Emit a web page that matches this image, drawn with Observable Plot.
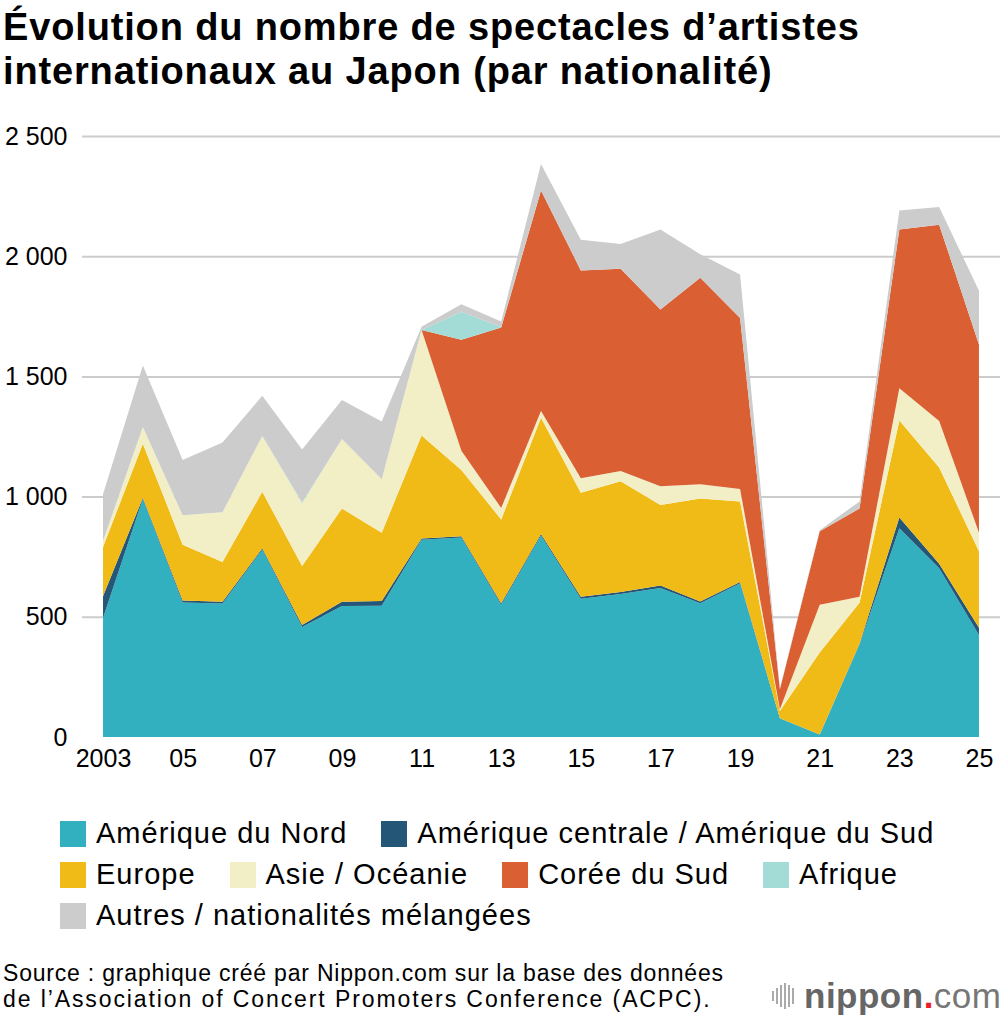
<!DOCTYPE html>
<html>
<head>
<meta charset="utf-8">
<script src="https://cdn.jsdelivr.net/npm/d3@7"></script>
<script src="https://cdn.jsdelivr.net/npm/@observablehq/plot@0.6"></script>
<style>
  html, body { margin: 0; padding: 0; background: #fff; }
  body { width: 1000px; height: 1020px; position: relative; overflow: hidden; font-family: "Liberation Sans", Arial, Helvetica, sans-serif; color: #000; }
  #title { position: absolute; left: 3px; top: 5px; font-size: 38px; font-weight: bold; line-height: 44px; letter-spacing: 0.85px; white-space: nowrap; }
  #chart { position: absolute; left: 0; top: 110px; }
  #legend { position: absolute; left: 60px; top: 813px; font-size: 29px; letter-spacing: 1px; }
  .row { height: 41px; display: flex; align-items: center; white-space: nowrap; }
  .item { display: flex; align-items: center; margin-right: 34px; }
  .sw { width: 26px; height: 26px; margin-right: 10px; flex: none; }
  #source { position: absolute; left: 3px; top: 960px; font-size: 23px; line-height: 26px; letter-spacing: 0.8px; white-space: nowrap; }
  #source .l2 { letter-spacing: 1.9px; }
  #logo { position: absolute; left: 772px; top: 976px; height: 40px; display: flex; align-items: center; }
  #logo .bars { display: flex; align-items: center; margin-right: 8px; }
  #logo .bars span { display: block; width: 2px; background: #aaa; margin-right: 2px; }
  #logo .word { font-size: 35px; color: #666; letter-spacing: 0.5px; }
  #logo .word b { font-weight: bold; color: #666; }
  #logo .word .dot { color: #e8202a; font-weight: bold; }
  #logo .word .com { font-weight: normal; color: #777; }
</style>
</head>
<body>
<div id="title">Évolution du nombre de spectacles d’artistes<br>internationaux au Japon (par nationalité)</div>
<div id="chart"></div>
<div id="legend"></div>
<div id="source">Source : graphique créé par Nippon.com sur la base des données<br><span class="l2">de l’Association of Concert Promoters Conference (ACPC).</span></div>
<div id="logo">
  <div class="bars"><span style="height:10px"></span><span style="height:16px"></span><span style="height:22px"></span><span style="height:26px"></span><span style="height:22px"></span><span style="height:16px"></span></div>
  <div class="word"><b>nippon</b><span class="dot">.</span><span class="com">com</span></div>
</div>
<script>
// ---- Data ----
const years = [2003,2004,2005,2006,2007,2008,2009,2010,2011,2012,2013,2014,2015,2016,2017,2018,2019,2020,2021,2022,2023,2024,2025];

const categories = [
  "Amérique du Nord",
  "Amérique centrale / Amérique du Sud",
  "Europe",
  "Asie / Océanie",
  "Corée du Sud",
  "Afrique",
  "Autres / nationalités mélangées"
];

const colors = ["#33b0c0", "#235677", "#f0bb17", "#f2efc6", "#da6034", "#a3dcd6", "#cccccc"];

const northAmerica   = [495, 990, 560, 555, 780, 458, 545, 546, 820, 830, 550, 838, 575, 595, 620, 556, 640, 78, 10, 385, 868, 702, 424];
const centralSouthAm = [ 90,   5,   8,   8,   5,   8,  18,  20,   6,   5,   6,   6,   8,   8,  10,   8,   5,  0,  0,   3,  45,  19,  30];
const europe         = [205, 225, 232, 165, 235, 245, 387, 284, 428, 276, 349, 484, 433, 461, 335, 428, 335, 30, 341, 170, 404, 400, 319];
const asiaOceania    = [ 25,  70, 122, 207, 232, 261, 290, 222, 439,  80,  48,  28,  60,  43,  78,  59,  52,  7, 199,  25, 134, 193,  77];
const southKorea     = [  0,   0,   0,   0,   0,   0,   0,   0,   0, 461, 750, 917, 865, 841, 735, 859, 711, 84, 306, 368, 660, 817, 783];
const africa         = [  0,   0,   0,   0,   0,   5,   0,   0,   0, 117,   3,   0,   0,   0,   0,   0,   0,  0,   0,   0,   0,   0,   0];
const others         = [195, 255, 230, 290, 167, 219, 162, 240,  14,  31,  22, 111, 127, 103, 333,  98, 181,  3,   4,  29,  79,  74, 223];

const series = [northAmerica, centralSouthAm, europe, asiaOceania, southKorea, africa, others];

const xTicks = [2003,2005,2007,2009,2011,2013,2015,2017,2019,2021,2023,2025];
const yTicks = [0,500,1000,1500,2000,2500];

// long table for the library
const table = [];
categories.forEach((cat, i) => {
  years.forEach((yr, j) => table.push({year: yr, value: series[i][j], cat}));
});

const fmtY = d => d3.format(",")(d).replace(/,/g, " ");
const fmtX = d => d === 2003 ? "2003" : String(d).slice(2);

const chart = Plot.plot({
  width: 1000,
  height: 667,
  marginTop: 26,
  marginBottom: 40,
  marginLeft: 82,
  marginRight: 0,
  style: {fontFamily: '"Liberation Sans", Arial, Helvetica, sans-serif', fontSize: "25px", color: "#000", background: "#fff"},
  x: {domain: [2002.472, 2025.528], label: null},
  y: {domain: [0, 2500], label: null},
  color: {domain: categories, range: colors},
  marks: [
    Plot.ruleY(yTicks.filter(d => d > 0), {stroke: "#cccccc", strokeWidth: 2}),
    Plot.areaY(table, {x: "year", y: "value", fill: "cat", order: categories}),
    Plot.ruleY([0], {stroke: "#000", strokeWidth: 3, x2: 995}),
    Plot.axisX({ticks: xTicks, tickSize: 0, tickPadding: 12, tickFormat: fmtX, fontSize: 25, label: null}),
    Plot.axisY({ticks: yTicks, tickSize: 0, tickPadding: 15, tickFormat: fmtY, fontSize: 25, label: null})
  ]
});
document.getElementById("chart").appendChild(chart);

// legend
const rows = [[0, 1], [2, 3, 4, 5], [6]];
const legend = document.getElementById("legend");
rows.forEach(r => {
  const row = document.createElement("div");
  row.className = "row";
  r.forEach(i => {
    const it = document.createElement("div");
    it.className = "item";
    const sw = document.createElement("div");
    sw.className = "sw";
    sw.style.background = colors[i];
    const tx = document.createElement("span");
    tx.textContent = categories[i];
    it.appendChild(sw); it.appendChild(tx);
    row.appendChild(it);
  });
  legend.appendChild(row);
});
</script>
</body>
</html>
